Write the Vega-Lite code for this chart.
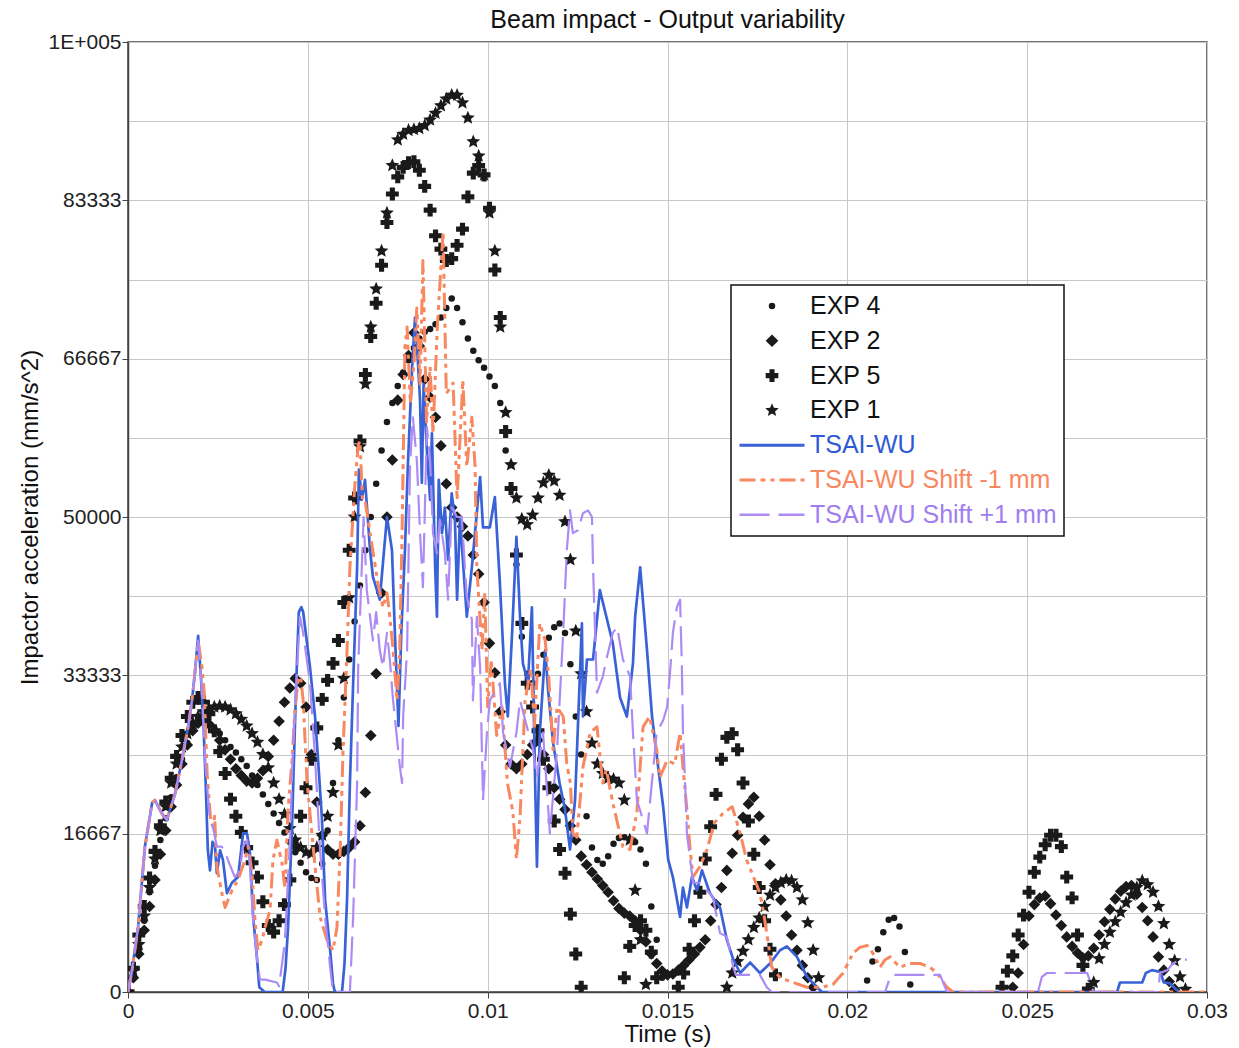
{
"$schema":"https://vega.github.io/schema/vega-lite/v6.json",
"width":1079,"height":950,
"autosize":{"type":"none"},
"padding":{"left":128,"top":42,"right":32,"bottom":56},
"title":{"text":"Beam impact - Output variability","fontSize":25,"font":"Liberation Sans","fontWeight":"normal","color":"#111","offset":-2,"anchor":"middle"},
"config":{
"view":{"stroke":"#444","strokeWidth":1.5},
"axis":{"labelFont":"Liberation Sans","titleFont":"Liberation Sans","labelFontSize":21,"titleFontSize":24,"titleFontWeight":"normal","labelColor":"#222","titleColor":"#111","domainColor":"#444","domainWidth":1.5,"tickColor":"#444","tickSize":6,"gridColor":"#c8c8c8","gridWidth":1},
"legend":{"strokeWidth":1.5}
},
"datasets":{
"e4":[{"t":0,"v":0},{"t":0.00015,"v":1500},{"t":0.0003,"v":4500},{"t":0.00045,"v":7500},{"t":0.0006,"v":10500},{"t":0.00075,"v":13300},{"t":0.0009,"v":16000},{"t":0.00105,"v":18300},{"t":0.0012,"v":20500},{"t":0.00135,"v":22600},{"t":0.0015,"v":24500},{"t":0.00165,"v":26200},{"t":0.0018,"v":27500},{"t":0.00195,"v":28300},{"t":0.0021,"v":28500},{"t":0.00225,"v":28300},{"t":0.0024,"v":27800},{"t":0.00255,"v":27200},{"t":0.0027,"v":26500},{"t":0.00285,"v":25800},{"t":0.003,"v":25200},{"t":0.00315,"v":24500},{"t":0.0033,"v":23800},{"t":0.00345,"v":22800},{"t":0.0036,"v":21800},{"t":0.00375,"v":20800},{"t":0.0039,"v":19800},{"t":0.00405,"v":18800},{"t":0.0042,"v":17800},{"t":0.00435,"v":16800},{"t":0.0045,"v":15800},{"t":0.00465,"v":14700},{"t":0.0048,"v":13600},{"t":0.00495,"v":12600},{"t":0.0051,"v":12000},{"t":0.00525,"v":11800},{"t":0.0054,"v":13500},{"t":0.00555,"v":17000},{"t":0.0057,"v":22000},{"t":0.00585,"v":26500},{"t":0.006,"v":31000},{"t":0.00615,"v":35000},{"t":0.0063,"v":39000},{"t":0.00645,"v":42800},{"t":0.0066,"v":46500},{"t":0.00675,"v":50000},{"t":0.0069,"v":53500},{"t":0.00705,"v":57000},{"t":0.0072,"v":60000},{"t":0.00735,"v":62000},{"t":0.0075,"v":63800},{"t":0.00765,"v":65200},{"t":0.0078,"v":66500},{"t":0.00795,"v":67800},{"t":0.0081,"v":68800},{"t":0.00825,"v":69500},{"t":0.0084,"v":69800},{"t":0.00855,"v":70300},{"t":0.0087,"v":71000},{"t":0.00885,"v":72000},{"t":0.009,"v":73000},{"t":0.00915,"v":72000},{"t":0.0093,"v":70500},{"t":0.00945,"v":68800},{"t":0.0096,"v":67500},{"t":0.00975,"v":66500},{"t":0.0099,"v":65700},{"t":0.01005,"v":64800},{"t":0.0102,"v":63800},{"t":0.01035,"v":62000},{"t":0.0105,"v":57000},{"t":0.01065,"v":53000},{"t":0.0108,"v":45000},{"t":0.01095,"v":37400},{"t":0.0111,"v":33500},{"t":0.01125,"v":32500},{"t":0.0114,"v":33500},{"t":0.01155,"v":35500},{"t":0.0117,"v":37300},{"t":0.01185,"v":38400},{"t":0.012,"v":38800},{"t":0.01215,"v":37800},{"t":0.0123,"v":34500},{"t":0.01245,"v":29000},{"t":0.0126,"v":25000},{"t":0.01275,"v":18500},{"t":0.0129,"v":15200},{"t":0.01305,"v":13900},{"t":0.0132,"v":13500},{"t":0.01335,"v":14300},{"t":0.0135,"v":15600},{"t":0.01365,"v":16200},{"t":0.0138,"v":16300},{"t":0.01395,"v":16100},{"t":0.0141,"v":15800},{"t":0.01425,"v":15000},{"t":0.0144,"v":13500},{"t":0.01455,"v":9000},{"t":0.0147,"v":5500},{"t":0.01485,"v":1500},{"t":0.02055,"v":1200},{"t":0.0207,"v":3200},{"t":0.02085,"v":4500},{"t":0.021,"v":6300},{"t":0.02115,"v":7600},{"t":0.0213,"v":7800},{"t":0.02145,"v":6900},{"t":0.0216,"v":4200},{"t":0.02175,"v":800}],
"e2":[{"t":0,"v":0},{"t":0.00015,"v":1500},{"t":0.0003,"v":4000},{"t":0.00045,"v":6500},{"t":0.0006,"v":9000},{"t":0.00075,"v":11800},{"t":0.0009,"v":14500},{"t":0.00105,"v":17000},{"t":0.0012,"v":19500},{"t":0.00135,"v":21800},{"t":0.0015,"v":24000},{"t":0.00165,"v":26000},{"t":0.0018,"v":27500},{"t":0.00195,"v":28300},{"t":0.0021,"v":28500},{"t":0.00225,"v":28200},{"t":0.0024,"v":27500},{"t":0.00255,"v":26500},{"t":0.0027,"v":25500},{"t":0.00285,"v":24500},{"t":0.003,"v":23500},{"t":0.00315,"v":22800},{"t":0.0033,"v":22200},{"t":0.00345,"v":22000},{"t":0.0036,"v":22500},{"t":0.00375,"v":23300},{"t":0.0039,"v":24800},{"t":0.00405,"v":26500},{"t":0.0042,"v":28500},{"t":0.00435,"v":30500},{"t":0.0045,"v":32000},{"t":0.00465,"v":33000},{"t":0.0048,"v":32500},{"t":0.00495,"v":30000},{"t":0.0051,"v":25000},{"t":0.00525,"v":20000},{"t":0.0054,"v":16500},{"t":0.00555,"v":15000},{"t":0.0057,"v":14500},{"t":0.00585,"v":14500},{"t":0.006,"v":14800},{"t":0.00615,"v":15200},{"t":0.0063,"v":15800},{"t":0.00645,"v":17500},{"t":0.0066,"v":21000},{"t":0.00675,"v":27000},{"t":0.0069,"v":33500},{"t":0.00705,"v":42000},{"t":0.0072,"v":50000},{"t":0.00735,"v":56000},{"t":0.0075,"v":62300},{"t":0.00765,"v":65000},{"t":0.0078,"v":67000},{"t":0.00795,"v":69400},{"t":0.0081,"v":68000},{"t":0.00825,"v":64500},{"t":0.0084,"v":62600},{"t":0.00855,"v":60500},{"t":0.0087,"v":57500},{"t":0.00885,"v":53500},{"t":0.009,"v":51000},{"t":0.00915,"v":50000},{"t":0.0093,"v":49000},{"t":0.00945,"v":48000},{"t":0.0096,"v":46000},{"t":0.00975,"v":44000},{"t":0.0099,"v":41000},{"t":0.01005,"v":36700},{"t":0.0102,"v":33600},{"t":0.01035,"v":29500},{"t":0.0105,"v":26000},{"t":0.01065,"v":24000},{"t":0.0108,"v":23500},{"t":0.01095,"v":24000},{"t":0.0111,"v":25000},{"t":0.01125,"v":26000},{"t":0.0114,"v":26500},{"t":0.01155,"v":25000},{"t":0.0117,"v":23500},{"t":0.01185,"v":21500},{"t":0.012,"v":20300},{"t":0.01215,"v":19200},{"t":0.0123,"v":17500},{"t":0.01245,"v":16000},{"t":0.0126,"v":14300},{"t":0.01275,"v":13400},{"t":0.0129,"v":12600},{"t":0.01305,"v":11900},{"t":0.0132,"v":11200},{"t":0.01335,"v":10500},{"t":0.0135,"v":9600},{"t":0.01365,"v":8800},{"t":0.0138,"v":8300},{"t":0.01395,"v":8000},{"t":0.0141,"v":7500},{"t":0.01425,"v":6500},{"t":0.0144,"v":5300},{"t":0.01455,"v":4000},{"t":0.0147,"v":3000},{"t":0.01485,"v":2200},{"t":0.015,"v":1800},{"t":0.01515,"v":1900},{"t":0.0153,"v":2300},{"t":0.01545,"v":2800},{"t":0.0156,"v":3400},{"t":0.01575,"v":4000},{"t":0.0159,"v":4700},{"t":0.01605,"v":5500},{"t":0.0162,"v":7500},{"t":0.01635,"v":9200},{"t":0.0165,"v":11000},{"t":0.01665,"v":12800},{"t":0.0168,"v":14600},{"t":0.01695,"v":16500},{"t":0.0171,"v":18400},{"t":0.01725,"v":19800},{"t":0.0174,"v":20500},{"t":0.01755,"v":18500},{"t":0.0177,"v":16000},{"t":0.01785,"v":13400},{"t":0.018,"v":11400},{"t":0.01815,"v":9700},{"t":0.0183,"v":8000},{"t":0.01845,"v":6000},{"t":0.0186,"v":4400},{"t":0.01875,"v":2800},{"t":0.0189,"v":1500},{"t":0.01905,"v":500},{"t":0.0246,"v":500},{"t":0.02475,"v":2000},{"t":0.0249,"v":5000},{"t":0.02505,"v":8000},{"t":0.0252,"v":9200},{"t":0.02535,"v":9900},{"t":0.0255,"v":10100},{"t":0.02565,"v":9300},{"t":0.0258,"v":8100},{"t":0.02595,"v":7000},{"t":0.0261,"v":5800},{"t":0.02625,"v":4800},{"t":0.0264,"v":4100},{"t":0.02655,"v":3600},{"t":0.0267,"v":3800},{"t":0.02685,"v":4600},{"t":0.027,"v":6000},{"t":0.02715,"v":7400},{"t":0.0273,"v":8700},{"t":0.02745,"v":9800},{"t":0.0276,"v":10600},{"t":0.02775,"v":11100},{"t":0.0279,"v":11200},{"t":0.02805,"v":10300},{"t":0.0282,"v":8900},{"t":0.02835,"v":7500},{"t":0.0285,"v":5800},{"t":0.02865,"v":3700},{"t":0.0288,"v":2300},{"t":0.02895,"v":1100},{"t":0.0291,"v":300}],
"e5":[{"t":0,"v":0},{"t":0.00015,"v":2500},{"t":0.0003,"v":6000},{"t":0.00045,"v":9000},{"t":0.0006,"v":12000},{"t":0.00075,"v":14800},{"t":0.0009,"v":17500},{"t":0.00105,"v":20000},{"t":0.0012,"v":22500},{"t":0.00135,"v":24800},{"t":0.0015,"v":27000},{"t":0.00165,"v":29000},{"t":0.0018,"v":30500},{"t":0.00195,"v":31000},{"t":0.0021,"v":30500},{"t":0.00225,"v":29300},{"t":0.0024,"v":27500},{"t":0.00255,"v":25300},{"t":0.0027,"v":23000},{"t":0.00285,"v":20300},{"t":0.003,"v":18500},{"t":0.00315,"v":16800},{"t":0.0033,"v":15200},{"t":0.00345,"v":13600},{"t":0.0036,"v":12100},{"t":0.00375,"v":9500},{"t":0.0039,"v":7000},{"t":0.00405,"v":6300},{"t":0.0042,"v":7500},{"t":0.00435,"v":9200},{"t":0.0045,"v":11800},{"t":0.00465,"v":15300},{"t":0.0048,"v":18500},{"t":0.00495,"v":21500},{"t":0.0051,"v":24500},{"t":0.00525,"v":27800},{"t":0.0054,"v":30800},{"t":0.00555,"v":32800},{"t":0.0057,"v":34600},{"t":0.00585,"v":37000},{"t":0.006,"v":41000},{"t":0.00615,"v":46500},{"t":0.0063,"v":52000},{"t":0.00645,"v":58000},{"t":0.0066,"v":65000},{"t":0.00675,"v":69000},{"t":0.0069,"v":72500},{"t":0.00705,"v":76500},{"t":0.0072,"v":81000},{"t":0.00735,"v":84000},{"t":0.0075,"v":85800},{"t":0.00765,"v":86800},{"t":0.0078,"v":87300},{"t":0.00795,"v":87400},{"t":0.0081,"v":86500},{"t":0.00825,"v":84800},{"t":0.0084,"v":82300},{"t":0.00855,"v":79600},{"t":0.0087,"v":78200},{"t":0.00885,"v":77000},{"t":0.009,"v":77200},{"t":0.00915,"v":78600},{"t":0.0093,"v":80300},{"t":0.00945,"v":83700},{"t":0.0096,"v":86200},{"t":0.00975,"v":87000},{"t":0.0099,"v":86000},{"t":0.01005,"v":82500},{"t":0.0102,"v":76000},{"t":0.01035,"v":71000},{"t":0.0105,"v":59000},{"t":0.01065,"v":53000},{"t":0.0108,"v":46000},{"t":0.01095,"v":38800},{"t":0.0111,"v":32500},{"t":0.01125,"v":30000},{"t":0.0114,"v":27500},{"t":0.01155,"v":24500},{"t":0.0117,"v":21500},{"t":0.01185,"v":18000},{"t":0.012,"v":15000},{"t":0.01215,"v":12500},{"t":0.0123,"v":8200},{"t":0.01245,"v":4000},{"t":0.0126,"v":500},{"t":0.0138,"v":1500},{"t":0.01395,"v":4800},{"t":0.0141,"v":7000},{"t":0.01425,"v":7500},{"t":0.0144,"v":6500},{"t":0.01455,"v":4200},{"t":0.0147,"v":1500},{"t":0.0153,"v":500},{"t":0.01545,"v":2000},{"t":0.0156,"v":4500},{"t":0.01575,"v":7500},{"t":0.0159,"v":10500},{"t":0.01605,"v":14000},{"t":0.0162,"v":17400},{"t":0.01635,"v":20800},{"t":0.0165,"v":24500},{"t":0.01665,"v":26800},{"t":0.0168,"v":27200},{"t":0.01695,"v":25500},{"t":0.0171,"v":22000},{"t":0.01725,"v":18000},{"t":0.0174,"v":14500},{"t":0.01755,"v":11000},{"t":0.0177,"v":7500},{"t":0.01785,"v":4500},{"t":0.018,"v":1800},{"t":0.0243,"v":500},{"t":0.02445,"v":2200},{"t":0.0246,"v":3800},{"t":0.02475,"v":6000},{"t":0.0249,"v":8100},{"t":0.02505,"v":10500},{"t":0.0252,"v":12600},{"t":0.02535,"v":14200},{"t":0.0255,"v":15500},{"t":0.02565,"v":16500},{"t":0.0258,"v":16500},{"t":0.02595,"v":15300},{"t":0.0261,"v":12100},{"t":0.02625,"v":9900},{"t":0.0264,"v":6000},{"t":0.02655,"v":2800},{"t":0.0267,"v":300}],
"e1":[{"t":0,"v":0},{"t":0.00015,"v":2200},{"t":0.0003,"v":5000},{"t":0.00045,"v":8000},{"t":0.0006,"v":11000},{"t":0.00075,"v":14000},{"t":0.0009,"v":17000},{"t":0.00105,"v":19500},{"t":0.0012,"v":22000},{"t":0.00135,"v":24000},{"t":0.0015,"v":25800},{"t":0.00165,"v":27200},{"t":0.0018,"v":28300},{"t":0.00195,"v":29000},{"t":0.0021,"v":29500},{"t":0.00225,"v":29800},{"t":0.0024,"v":30000},{"t":0.00255,"v":30100},{"t":0.0027,"v":30000},{"t":0.00285,"v":29700},{"t":0.003,"v":29300},{"t":0.00315,"v":28700},{"t":0.0033,"v":28000},{"t":0.00345,"v":27200},{"t":0.0036,"v":26300},{"t":0.00375,"v":25000},{"t":0.0039,"v":23600},{"t":0.00405,"v":22000},{"t":0.0042,"v":20300},{"t":0.00435,"v":18700},{"t":0.0045,"v":17200},{"t":0.00465,"v":16000},{"t":0.0048,"v":15200},{"t":0.00495,"v":14700},{"t":0.0051,"v":14600},{"t":0.00525,"v":15200},{"t":0.0054,"v":16500},{"t":0.00555,"v":18500},{"t":0.0057,"v":21000},{"t":0.00585,"v":26000},{"t":0.006,"v":33000},{"t":0.00615,"v":41500},{"t":0.0063,"v":50000},{"t":0.00645,"v":57400},{"t":0.0066,"v":64000},{"t":0.00675,"v":70000},{"t":0.0069,"v":74000},{"t":0.00705,"v":78000},{"t":0.0072,"v":82000},{"t":0.00735,"v":87000},{"t":0.0075,"v":89700},{"t":0.00765,"v":90300},{"t":0.0078,"v":90700},{"t":0.00795,"v":90800},{"t":0.0081,"v":90900},{"t":0.00825,"v":91200},{"t":0.0084,"v":91800},{"t":0.00855,"v":92500},{"t":0.0087,"v":93300},{"t":0.00885,"v":94000},{"t":0.009,"v":94400},{"t":0.00915,"v":94400},{"t":0.0093,"v":93600},{"t":0.00945,"v":92000},{"t":0.0096,"v":89500},{"t":0.00975,"v":88000},{"t":0.0099,"v":86000},{"t":0.01005,"v":82000},{"t":0.0102,"v":78000},{"t":0.01035,"v":70000},{"t":0.0105,"v":61000},{"t":0.01065,"v":55500},{"t":0.0108,"v":52000},{"t":0.01095,"v":49800},{"t":0.0111,"v":49200},{"t":0.01125,"v":50200},{"t":0.0114,"v":52000},{"t":0.01155,"v":53600},{"t":0.0117,"v":54400},{"t":0.01185,"v":53800},{"t":0.012,"v":52300},{"t":0.01215,"v":49500},{"t":0.0123,"v":45500},{"t":0.01245,"v":38000},{"t":0.0126,"v":33500},{"t":0.01275,"v":29500},{"t":0.0129,"v":26200},{"t":0.01305,"v":24000},{"t":0.0132,"v":23000},{"t":0.01335,"v":22500},{"t":0.0135,"v":22400},{"t":0.01365,"v":22000},{"t":0.0138,"v":20200},{"t":0.01395,"v":16000},{"t":0.0141,"v":10700},{"t":0.01425,"v":5500},{"t":0.0144,"v":800},{"t":0.01665,"v":500},{"t":0.0168,"v":2000},{"t":0.01695,"v":3200},{"t":0.0171,"v":4300},{"t":0.01725,"v":5500},{"t":0.0174,"v":6800},{"t":0.01755,"v":7800},{"t":0.0177,"v":9000},{"t":0.01785,"v":10200},{"t":0.018,"v":11000},{"t":0.01815,"v":11500},{"t":0.0183,"v":11800},{"t":0.01845,"v":11700},{"t":0.0186,"v":11000},{"t":0.01875,"v":9700},{"t":0.0189,"v":7300},{"t":0.01905,"v":4400},{"t":0.0192,"v":1500},{"t":0.02685,"v":1000},{"t":0.027,"v":3500},{"t":0.02715,"v":5000},{"t":0.0273,"v":6300},{"t":0.02745,"v":7400},{"t":0.0276,"v":8400},{"t":0.02775,"v":9400},{"t":0.0279,"v":10200},{"t":0.02805,"v":11000},{"t":0.0282,"v":11700},{"t":0.02835,"v":11300},{"t":0.0285,"v":10500},{"t":0.02865,"v":9000},{"t":0.0288,"v":7200},{"t":0.02895,"v":5000},{"t":0.0291,"v":3300},{"t":0.02925,"v":1600},{"t":0.0294,"v":300}],
"tw":[{"t":0,"v":0},{"t":0.0001,"v":2000},{"t":0.00028,"v":6800},{"t":0.00047,"v":15300},{"t":0.00067,"v":19900},{"t":0.00075,"v":20200},{"t":0.00094,"v":18800},{"t":0.00108,"v":18100},{"t":0.00131,"v":20900},{"t":0.0015,"v":24400},{"t":0.00167,"v":27900},{"t":0.00178,"v":30700},{"t":0.00186,"v":33600},{"t":0.00195,"v":37500},{"t":0.00203,"v":33000},{"t":0.0021,"v":28000},{"t":0.00216,"v":22000},{"t":0.00222,"v":14900},{"t":0.00228,"v":12800},{"t":0.00235,"v":15800},{"t":0.00242,"v":15300},{"t":0.00247,"v":12500},{"t":0.00256,"v":14900},{"t":0.00264,"v":13900},{"t":0.00275,"v":10400},{"t":0.00289,"v":11500},{"t":0.00306,"v":12100},{"t":0.0032,"v":16700},{"t":0.00331,"v":16700},{"t":0.00339,"v":14600},{"t":0.00348,"v":7900},{"t":0.00359,"v":3400},{"t":0.00365,"v":500},{"t":0.0038,"v":0},{"t":0.0043,"v":0},{"t":0.00438,"v":2500},{"t":0.00445,"v":6800},{"t":0.00456,"v":17400},{"t":0.00464,"v":27900},{"t":0.0047,"v":35000},{"t":0.00475,"v":40000},{"t":0.00482,"v":40500},{"t":0.00487,"v":40000},{"t":0.00506,"v":34200},{"t":0.0052,"v":29000},{"t":0.00528,"v":24700},{"t":0.00539,"v":18400},{"t":0.00548,"v":9700},{"t":0.00562,"v":4400},{"t":0.0057,"v":900},{"t":0.00575,"v":0},{"t":0.00595,"v":0},{"t":0.00602,"v":3000},{"t":0.00609,"v":9700},{"t":0.00617,"v":22000},{"t":0.00626,"v":32500},{"t":0.00637,"v":44700},{"t":0.00642,"v":55000},{"t":0.0065,"v":51800},{"t":0.00659,"v":53900},{"t":0.00673,"v":46500},{"t":0.00681,"v":43700},{"t":0.007,"v":41300},{"t":0.0072,"v":50000},{"t":0.00734,"v":46500},{"t":0.00742,"v":37800},{"t":0.00752,"v":28000},{"t":0.0076,"v":38000},{"t":0.0077,"v":46500},{"t":0.00778,"v":55300},{"t":0.0079,"v":65800},{"t":0.00798,"v":71000},{"t":0.00805,"v":67000},{"t":0.00812,"v":62300},{"t":0.00817,"v":53600},{"t":0.00822,"v":64000},{"t":0.00831,"v":57000},{"t":0.0084,"v":51800},{"t":0.00845,"v":58800},{"t":0.00854,"v":44700},{"t":0.00859,"v":39500},{"t":0.00864,"v":53900},{"t":0.00873,"v":48300},{"t":0.00881,"v":51000},{"t":0.0089,"v":45500},{"t":0.009,"v":52500},{"t":0.00909,"v":49700},{"t":0.00915,"v":41300},{"t":0.00923,"v":50000},{"t":0.00931,"v":45500},{"t":0.00942,"v":39500},{"t":0.00956,"v":44700},{"t":0.00979,"v":54200},{"t":0.00987,"v":48900},{"t":0.01006,"v":48900},{"t":0.0102,"v":52100},{"t":0.01034,"v":43000},{"t":0.01048,"v":32500},{"t":0.01056,"v":29000},{"t":0.01068,"v":37800},{"t":0.0108,"v":47900},{"t":0.0109,"v":39500},{"t":0.01098,"v":34600},{"t":0.01112,"v":32500},{"t":0.01123,"v":40500},{"t":0.01132,"v":22000},{"t":0.01137,"v":13200},{"t":0.01145,"v":27300},{"t":0.0116,"v":36000},{"t":0.01168,"v":31800},{"t":0.01182,"v":26200},{"t":0.012,"v":22000},{"t":0.01215,"v":19200},{"t":0.01229,"v":15000},{"t":0.01243,"v":20200},{"t":0.01262,"v":38800},{"t":0.01265,"v":29000},{"t":0.01276,"v":35000},{"t":0.01293,"v":35000},{"t":0.01312,"v":42300},{"t":0.0133,"v":39500},{"t":0.01348,"v":36700},{"t":0.01368,"v":31000},{"t":0.01387,"v":29000},{"t":0.01404,"v":34600},{"t":0.0141,"v":39500},{"t":0.01424,"v":44700},{"t":0.01443,"v":36000},{"t":0.01457,"v":29000},{"t":0.01474,"v":23700},{"t":0.01488,"v":19500},{"t":0.01502,"v":13900},{"t":0.01515,"v":12100},{"t":0.01535,"v":7900},{"t":0.01543,"v":11000},{"t":0.01554,"v":8900},{"t":0.01568,"v":12100},{"t":0.01582,"v":10700},{"t":0.01596,"v":12800},{"t":0.01618,"v":10400},{"t":0.01646,"v":8900},{"t":0.01665,"v":5500},{"t":0.01683,"v":3400},{"t":0.01702,"v":2000},{"t":0.0173,"v":3100},{"t":0.01757,"v":2000},{"t":0.01785,"v":3000},{"t":0.01813,"v":4400},{"t":0.01832,"v":4800},{"t":0.0186,"v":3700},{"t":0.01888,"v":1600},{"t":0.01915,"v":500},{"t":0.0193,"v":0},{"t":0.0275,"v":0},{"t":0.02758,"v":1000},{"t":0.0282,"v":1000},{"t":0.0283,"v":2000},{"t":0.02847,"v":2300},{"t":0.0287,"v":2100},{"t":0.0288,"v":1000},{"t":0.02897,"v":900},{"t":0.02916,"v":200},{"t":0.02925,"v":0}],
"tm":[{"t":0,"v":0},{"t":0.0001,"v":2000},{"t":0.00028,"v":6800},{"t":0.00047,"v":15300},{"t":0.00067,"v":19900},{"t":0.00075,"v":20200},{"t":0.00094,"v":18800},{"t":0.00108,"v":18100},{"t":0.00131,"v":20900},{"t":0.0015,"v":24400},{"t":0.00167,"v":27900},{"t":0.00178,"v":30700},{"t":0.00186,"v":33600},{"t":0.00195,"v":36800},{"t":0.00205,"v":34500},{"t":0.00212,"v":31500},{"t":0.0022,"v":23000},{"t":0.0023,"v":18000},{"t":0.00236,"v":17400},{"t":0.00241,"v":18500},{"t":0.00247,"v":13200},{"t":0.00261,"v":10400},{"t":0.0027,"v":8900},{"t":0.00289,"v":10700},{"t":0.00306,"v":11800},{"t":0.00325,"v":13900},{"t":0.00334,"v":15300},{"t":0.00345,"v":12500},{"t":0.00353,"v":7600},{"t":0.00361,"v":4400},{"t":0.00373,"v":5500},{"t":0.00381,"v":6800},{"t":0.00395,"v":8600},{"t":0.00403,"v":13900},{"t":0.00414,"v":16000},{"t":0.00428,"v":13600},{"t":0.00436,"v":11000},{"t":0.00445,"v":19200},{"t":0.00456,"v":24400},{"t":0.00464,"v":29700},{"t":0.00473,"v":32800},{"t":0.0048,"v":33200},{"t":0.00487,"v":30700},{"t":0.00498,"v":22000},{"t":0.0052,"v":13200},{"t":0.00534,"v":7900},{"t":0.00553,"v":5500},{"t":0.0057,"v":4400},{"t":0.00581,"v":6800},{"t":0.0059,"v":15000},{"t":0.00598,"v":25500},{"t":0.00609,"v":36000},{"t":0.00617,"v":44700},{"t":0.0063,"v":53000},{"t":0.0064,"v":57600},{"t":0.00645,"v":58000},{"t":0.00652,"v":51800},{"t":0.00659,"v":51800},{"t":0.00673,"v":48300},{"t":0.00695,"v":43000},{"t":0.00709,"v":40500},{"t":0.0072,"v":42000},{"t":0.00728,"v":39500},{"t":0.00737,"v":36000},{"t":0.00748,"v":30700},{"t":0.00755,"v":35000},{"t":0.00762,"v":48300},{"t":0.0077,"v":67900},{"t":0.00776,"v":70000},{"t":0.00785,"v":62000},{"t":0.00795,"v":66000},{"t":0.00803,"v":72000},{"t":0.00812,"v":64000},{"t":0.0082,"v":77000},{"t":0.0083,"v":60000},{"t":0.0084,"v":65800},{"t":0.00848,"v":58800},{"t":0.0086,"v":70000},{"t":0.00876,"v":80000},{"t":0.00885,"v":63000},{"t":0.00904,"v":64100},{"t":0.00915,"v":51800},{"t":0.00931,"v":64400},{"t":0.00942,"v":55300},{"t":0.00956,"v":60500},{"t":0.00965,"v":55300},{"t":0.0097,"v":44700},{"t":0.00984,"v":36000},{"t":0.00992,"v":42000},{"t":0.01,"v":30000},{"t":0.0101,"v":35000},{"t":0.01025,"v":27000},{"t":0.0104,"v":30000},{"t":0.01055,"v":22000},{"t":0.0107,"v":19000},{"t":0.0108,"v":14000},{"t":0.0109,"v":18400},{"t":0.01104,"v":30700},{"t":0.0112,"v":34000},{"t":0.0113,"v":28000},{"t":0.01145,"v":38800},{"t":0.0116,"v":37000},{"t":0.0117,"v":33000},{"t":0.01182,"v":25500},{"t":0.01193,"v":30000},{"t":0.0121,"v":29000},{"t":0.0122,"v":24000},{"t":0.0123,"v":22000},{"t":0.01237,"v":16700},{"t":0.01248,"v":16300},{"t":0.01265,"v":23700},{"t":0.01285,"v":27300},{"t":0.01304,"v":27900},{"t":0.0132,"v":22000},{"t":0.0133,"v":23400},{"t":0.01348,"v":19900},{"t":0.01376,"v":15300},{"t":0.01396,"v":15000},{"t":0.01415,"v":19000},{"t":0.01432,"v":27900},{"t":0.0145,"v":29000},{"t":0.0147,"v":25500},{"t":0.01479,"v":22600},{"t":0.01499,"v":24400},{"t":0.0152,"v":24000},{"t":0.01535,"v":27300},{"t":0.01543,"v":23700},{"t":0.01554,"v":19200},{"t":0.01563,"v":15000},{"t":0.01571,"v":12100},{"t":0.0159,"v":13200},{"t":0.0161,"v":15000},{"t":0.0163,"v":17800},{"t":0.01654,"v":18800},{"t":0.0168,"v":19500},{"t":0.01702,"v":16700},{"t":0.0172,"v":13900},{"t":0.01735,"v":12500},{"t":0.01757,"v":10400},{"t":0.01766,"v":8600},{"t":0.01776,"v":6200},{"t":0.0179,"v":2600},{"t":0.01813,"v":1500},{"t":0.01849,"v":1000},{"t":0.01888,"v":500},{"t":0.0193,"v":500},{"t":0.0196,"v":800},{"t":0.01988,"v":2000},{"t":0.02016,"v":4100},{"t":0.02035,"v":4700},{"t":0.02055,"v":4900},{"t":0.02071,"v":4100},{"t":0.02091,"v":2600},{"t":0.02105,"v":3400},{"t":0.02119,"v":3700},{"t":0.02146,"v":2600},{"t":0.02174,"v":3000},{"t":0.02202,"v":3000},{"t":0.0223,"v":2600},{"t":0.02249,"v":2000},{"t":0.02277,"v":500},{"t":0.02294,"v":0},{"t":0.03,"v":0}],
"tp":[{"t":0,"v":0},{"t":0.0001,"v":2000},{"t":0.00028,"v":6800},{"t":0.00047,"v":15300},{"t":0.00067,"v":19900},{"t":0.00075,"v":20200},{"t":0.00094,"v":18800},{"t":0.00108,"v":18100},{"t":0.00131,"v":20900},{"t":0.0015,"v":24400},{"t":0.00167,"v":27900},{"t":0.00178,"v":30700},{"t":0.00186,"v":33600},{"t":0.00195,"v":37000},{"t":0.00205,"v":32000},{"t":0.00215,"v":24000},{"t":0.00228,"v":18100},{"t":0.00236,"v":17400},{"t":0.00247,"v":15300},{"t":0.00261,"v":15300},{"t":0.00275,"v":14200},{"t":0.00283,"v":13400},{"t":0.00297,"v":12100},{"t":0.00311,"v":12800},{"t":0.0032,"v":15300},{"t":0.00331,"v":16000},{"t":0.00339,"v":13200},{"t":0.00348,"v":7600},{"t":0.00359,"v":3400},{"t":0.00367,"v":1300},{"t":0.00381,"v":1300},{"t":0.00414,"v":1000},{"t":0.0042,"v":600},{"t":0.00436,"v":5200},{"t":0.0045,"v":15700},{"t":0.00459,"v":26200},{"t":0.0047,"v":33900},{"t":0.00478,"v":39500},{"t":0.00487,"v":37800},{"t":0.00506,"v":32500},{"t":0.0052,"v":24700},{"t":0.00534,"v":15000},{"t":0.00548,"v":7900},{"t":0.00562,"v":2600},{"t":0.0057,"v":0},{"t":0.00617,"v":0},{"t":0.00626,"v":7900},{"t":0.00637,"v":22000},{"t":0.0064,"v":34200},{"t":0.0065,"v":44700},{"t":0.00655,"v":50000},{"t":0.00664,"v":42300},{"t":0.00673,"v":39500},{"t":0.00681,"v":37000},{"t":0.0069,"v":40000},{"t":0.007,"v":36000},{"t":0.00709,"v":34200},{"t":0.0072,"v":37800},{"t":0.00728,"v":35000},{"t":0.00737,"v":30700},{"t":0.00756,"v":23700},{"t":0.00762,"v":22000},{"t":0.00765,"v":29000},{"t":0.00776,"v":36000},{"t":0.00784,"v":55300},{"t":0.00792,"v":60500},{"t":0.00803,"v":56000},{"t":0.00812,"v":48300},{"t":0.0082,"v":42600},{"t":0.00831,"v":59500},{"t":0.0084,"v":56000},{"t":0.00848,"v":48300},{"t":0.00859,"v":46200},{"t":0.00867,"v":49700},{"t":0.00881,"v":46200},{"t":0.0089,"v":41300},{"t":0.009,"v":51000},{"t":0.00915,"v":50000},{"t":0.00928,"v":50000},{"t":0.00942,"v":41600},{"t":0.00956,"v":39200},{"t":0.00959,"v":30700},{"t":0.0097,"v":39500},{"t":0.00979,"v":34200},{"t":0.00987,"v":20200},{"t":0.00998,"v":27300},{"t":0.01006,"v":30700},{"t":0.01034,"v":32500},{"t":0.01043,"v":27300},{"t":0.01062,"v":23700},{"t":0.0108,"v":27300},{"t":0.0109,"v":30700},{"t":0.01126,"v":25500},{"t":0.01137,"v":22600},{"t":0.01154,"v":27300},{"t":0.01173,"v":16700},{"t":0.01193,"v":25500},{"t":0.0121,"v":37800},{"t":0.0122,"v":46500},{"t":0.01229,"v":50700},{"t":0.01237,"v":48300},{"t":0.01251,"v":48600},{"t":0.01265,"v":50400},{"t":0.01279,"v":50700},{"t":0.0129,"v":50000},{"t":0.01293,"v":44700},{"t":0.01304,"v":31500},{"t":0.0132,"v":33200},{"t":0.0133,"v":35000},{"t":0.01348,"v":37800},{"t":0.0136,"v":38400},{"t":0.01368,"v":36700},{"t":0.01376,"v":35000},{"t":0.01396,"v":33200},{"t":0.01404,"v":27300},{"t":0.01415,"v":20200},{"t":0.01443,"v":16700},{"t":0.0147,"v":27300},{"t":0.01488,"v":28600},{"t":0.01499,"v":30000},{"t":0.01507,"v":33600},{"t":0.01515,"v":37800},{"t":0.01526,"v":40500},{"t":0.01535,"v":41300},{"t":0.0154,"v":34200},{"t":0.01543,"v":27300},{"t":0.01549,"v":22000},{"t":0.01554,"v":16700},{"t":0.01571,"v":11500},{"t":0.0159,"v":11500},{"t":0.01626,"v":10000},{"t":0.01646,"v":6200},{"t":0.01665,"v":5800},{"t":0.01683,"v":2600},{"t":0.0169,"v":1800},{"t":0.01757,"v":1800},{"t":0.01776,"v":500},{"t":0.0179,"v":0},{"t":0.02105,"v":0},{"t":0.02119,"v":1600},{"t":0.02127,"v":1800},{"t":0.02258,"v":1800},{"t":0.02277,"v":0},{"t":0.0253,"v":0},{"t":0.02541,"v":1600},{"t":0.02555,"v":2000},{"t":0.02667,"v":2000},{"t":0.0268,"v":500},{"t":0.02685,"v":0},{"t":0.02865,"v":0},{"t":0.02869,"v":2000},{"t":0.0289,"v":2300},{"t":0.02905,"v":3000},{"t":0.02925,"v":3400},{"t":0.02944,"v":3400}]
},
"encoding":{
"x":{"field":"t","type":"quantitative","scale":{"domain":[0,0.03],"nice":false,"zero":false},"axis":{"title":"Time (s)","values":[0,0.005,0.01,0.015,0.02,0.025,0.03],"format":"~g","labelFlush":false,"labelOverlap":false,"labelPadding":2,"titlePadding":1}},
"y":{"field":"v","type":"quantitative","scale":{"domain":[0,100000],"nice":false},"axis":{"title":"Impactor acceleration (mm/s^2)","values":[0,8333.333,16666.667,25000,33333.333,41666.667,50000,58333.333,66666.667,75000,83333.333,91666.667,100000],"labelExpr":"round(datum.value/8333.333)%2==1 ? '' : (datum.value > 99999 ? '1E+005' : format(datum.value,'.0f'))","tickOpacity":{"condition":{"test":"round(datum.value/8333.333)%2==1","value":0},"value":1},"labelPadding":1,"titlePadding":6,"labelOverlap":false,"labelFlush":false}}
},
"layer":[
{"data":{"name":"e4"},"mark":{"type":"point","filled":true,"shape":"circle","size":42,"opacity":1,"clip":true},
 "encoding":{"color":{"datum":"EXP 4","type":"nominal","scale":{"domain":["EXP 4","EXP 2","EXP 5","EXP 1","TSAI-WU","TSAI-WU Shift -1 mm","TSAI-WU Shift +1 mm"],"range":["#1a1a1a","#1a1a1a","#1a1a1a","#1a1a1a","#3A62D7","#F9875F","#AC8CF4"]},
 "legend":{"orient":"none","legendX":603,"legendY":243,"title":null,"padding":7,"strokeColor":"#111","fillColor":"#ffffff",
 "symbolType":{"expr":"(datum.value==='EXP 4'?'circle':datum.value==='EXP 2'?'diamond':datum.value==='EXP 5'?'cross':datum.value==='EXP 1'?'M0,-1L0.2645,-0.3641L0.9511,-0.309L0.428,0.1391L0.5878,0.809L0,0.45L-0.5878,0.809L-0.428,0.1391L-0.9511,-0.309L-0.2645,-0.3641Z':'stroke')"},
 "symbolSize":{"expr":"(datum.value==='EXP 4'?42:(datum.value==='EXP 1'?200:(indexof(datum.value+'','EXP')===0?160:4225)))"},
 "symbolFillColor":{"expr":"(indexof(datum.value+'','EXP')===0?'#1a1a1a':'transparent')"},
 "symbolStrokeColor":{"expr":"(datum.value==='TSAI-WU'?'#3A62D7':datum.value==='TSAI-WU Shift -1 mm'?'#F9875F':datum.value==='TSAI-WU Shift +1 mm'?'#AC8CF4':'transparent')"},
 "symbolStrokeWidth":{"expr":"(indexof(datum.value+'','EXP')===0?0:(datum.value==='TSAI-WU Shift +1 mm'?2.5:3))"},
 "symbolDash":{"expr":"(datum.value==='TSAI-WU Shift -1 mm'?[16,5,5,5,4,5]:(datum.value==='TSAI-WU Shift +1 mm'?[30,9]:[1,0]))"},
 "symbolOpacity":1,"symbolOffset":0,"clipHeight":28,"rowPadding":6.8,"labelOffset":4,"labelFont":"Liberation Sans","labelFontSize":25,"labelLimit":400,
 "labelColor":{"expr":"(datum.value==='TSAI-WU'?'#2F5AD6':datum.value==='TSAI-WU Shift -1 mm'?'#F9875F':datum.value==='TSAI-WU Shift +1 mm'?'#A07EF0':'#111')"}}}}},
{"data":{"name":"e2"},"mark":{"type":"point","filled":true,"shape":"diamond","size":135,"opacity":1,"clip":true},
 "encoding":{"color":{"datum":"EXP 2","type":"nominal"}}},
{"data":{"name":"e5"},"mark":{"type":"point","filled":true,"shape":"cross","size":165,"opacity":1,"clip":true},
 "encoding":{"color":{"datum":"EXP 5","type":"nominal"}}},
{"data":{"name":"e1"},"mark":{"type":"point","filled":true,"shape":"M0,-1L0.2645,-0.3641L0.9511,-0.309L0.428,0.1391L0.5878,0.809L0,0.45L-0.5878,0.809L-0.428,0.1391L-0.9511,-0.309L-0.2645,-0.3641Z","size":210,"opacity":1,"clip":true},
 "encoding":{"color":{"datum":"EXP 1","type":"nominal"}}},
{"data":{"name":"tw"},"mark":{"type":"line","strokeWidth":2.7,"strokeJoin":"round","clip":true},
 "encoding":{"color":{"datum":"TSAI-WU","type":"nominal"}}},
{"data":{"name":"tm"},"mark":{"type":"line","strokeWidth":3,"strokeDash":[16,5,5,5,4,5],"strokeJoin":"round","clip":true},
 "encoding":{"color":{"datum":"TSAI-WU Shift -1 mm","type":"nominal"}}},
{"data":{"name":"tp"},"mark":{"type":"line","strokeWidth":2.2,"strokeDash":[30,9],"strokeJoin":"round","clip":true},
 "encoding":{"color":{"datum":"TSAI-WU Shift +1 mm","type":"nominal"}}}
]
}
